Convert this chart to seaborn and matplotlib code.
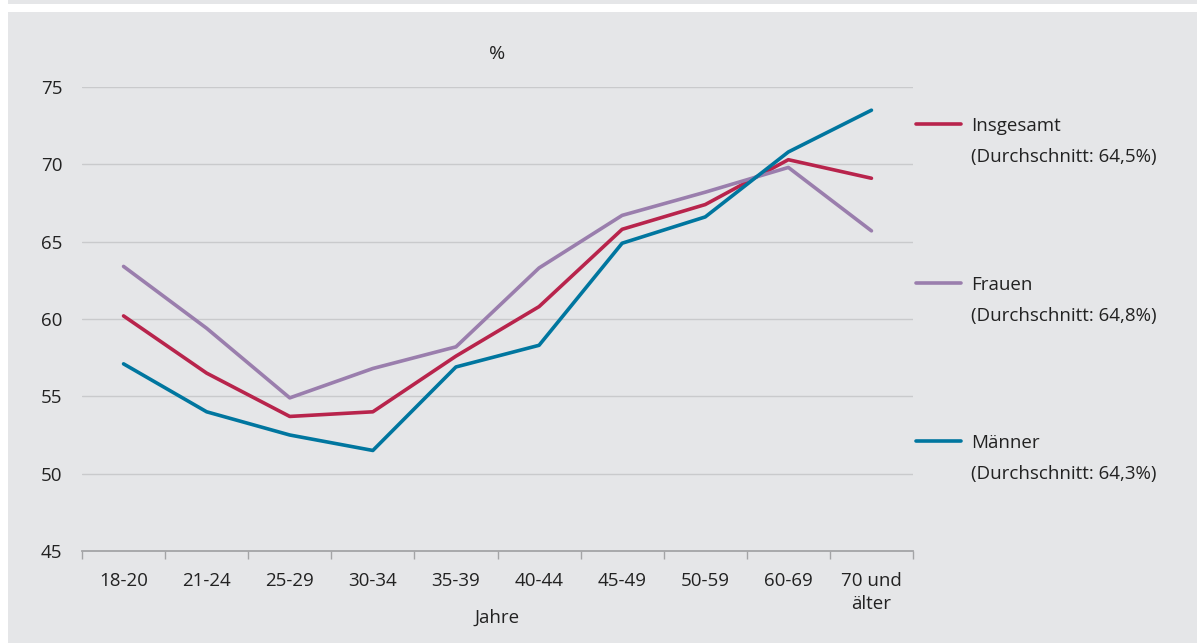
import matplotlib
matplotlib.use("Agg")
import matplotlib.pyplot as plt
import seaborn as sns
import pandas as pd
from matplotlib.patches import Rectangle
from matplotlib.lines import Line2D

# Altersgruppen
categories = ["18-20", "21-24", "25-29", "30-34", "35-39", "40-44",
              "45-49", "50-59", "60-69", "70 und\nälter"]

# Anteile in Prozent
insgesamt = [60.2, 56.5, 53.7, 54.0, 57.6, 60.8, 65.8, 67.4, 70.3, 69.1]
frauen = [63.4, 59.4, 54.9, 56.8, 58.2, 63.3, 66.7, 68.2, 69.8, 65.7]
maenner = [57.1, 54.0, 52.5, 51.5, 56.9, 58.3, 64.9, 66.6, 70.8, 73.5]

series_names = ["Insgesamt", "Frauen", "Männer"]
series_labels = ["Insgesamt\n(Durchschnitt: 64,5%)",
                 "Frauen\n(Durchschnitt: 64,8%)",
                 "Männer\n(Durchschnitt: 64,3%)"]
y_ticks = [45, 50, 55, 60, 65, 70, 75]

colors = {"Insgesamt": "#b8244c", "Frauen": "#9a7ead", "Männer": "#00769f"}
bg = "#e5e6e8"
text_color = "#222222"
fs = 13.5

W, H = 1197, 643
dpi = 100

sns.set_theme(style="white")
plt.rcParams["font.family"] = ["Open Sans", "DejaVu Sans"]

fig = plt.figure(figsize=(W / dpi, H / dpi), dpi=dpi, facecolor=bg)

# White band near the top edge and along the left edge
fig.patches.append(Rectangle((0, 1 - 12 / H), 1, 8 / H, transform=fig.transFigure,
                             facecolor="white", edgecolor="none", zorder=0))
fig.patches.append(Rectangle((0, 0), 8 / W, 1, transform=fig.transFigure,
                             facecolor="white", edgecolor="none", zorder=0))

left, right = 82 / W, 913 / W
bottom, top = 1 - 551 / H, 1 - 87 / H
ax = fig.add_axes([left, bottom, right - left, top - bottom])
ax.set_facecolor(bg)

records = []
for name, vals in zip(series_names, [insgesamt, frauen, maenner]):
    for i, v in enumerate(vals):
        records.append({"Alter": i, "Wert": v, "Gruppe": name})
df = pd.DataFrame(records)

sns.lineplot(data=df, x="Alter", y="Wert", hue="Gruppe", hue_order=series_names,
             palette=colors, linewidth=2.6, legend=False, ax=ax,
             solid_capstyle="round", zorder=3)

ax.set_xlim(-0.5, len(categories) - 0.5)
ax.set_ylim(45, 75)
ax.set_yticks(y_ticks)
ax.set_yticklabels([str(t) for t in y_ticks], fontsize=fs, color=text_color)
ax.set_xticks(range(len(categories)))
ax.set_xticklabels(categories, fontsize=fs, color=text_color, linespacing=1.4)
ax.set_xticks([i - 0.5 for i in range(len(categories) + 1)], minor=True)

for t in y_ticks[1:]:
    ax.axhline(t, color="#c9cacc", linewidth=1.0, zorder=1)

for s in ["top", "right", "left"]:
    ax.spines[s].set_visible(False)
ax.spines["bottom"].set_color("#a3a4a6")
ax.spines["bottom"].set_linewidth(1.3)

ax.tick_params(axis="y", left=False, length=0, pad=14)
ax.tick_params(axis="x", which="major", bottom=False, length=0, pad=15)
ax.tick_params(axis="x", which="minor", bottom=True, length=6, width=1,
               color="#a3a4a6", direction="out")
ax.grid(False)

ax.set_xlabel("Jahre", fontsize=fs, color=text_color)
ax.xaxis.set_label_coords(0.5, -(618 - 551) / (551 - 87))
ax.xaxis.label.set_va("center")
ax.set_ylabel("")
ax.text(0.5, 1 + 33 / (551 - 87), "%", transform=ax.transAxes, ha="center",
        va="center", fontsize=14, color=text_color)

# Legend entries placed beside the plot
legend_y = [124, 283, 441]
for name, lab, yp in zip(series_names, series_labels, legend_y):
    yf = 1 - yp / H
    fig.lines.append(Line2D([916 / W, 961 / W], [yf, yf], transform=fig.transFigure,
                            color=colors[name], linewidth=2.6))
    fig.text(971 / W, yf + 7 / H, lab, ha="left", va="top", fontsize=fs,
             color=text_color, linespacing=1.95, transform=fig.transFigure)

fig.savefig("out.png", dpi=dpi, facecolor=bg)
